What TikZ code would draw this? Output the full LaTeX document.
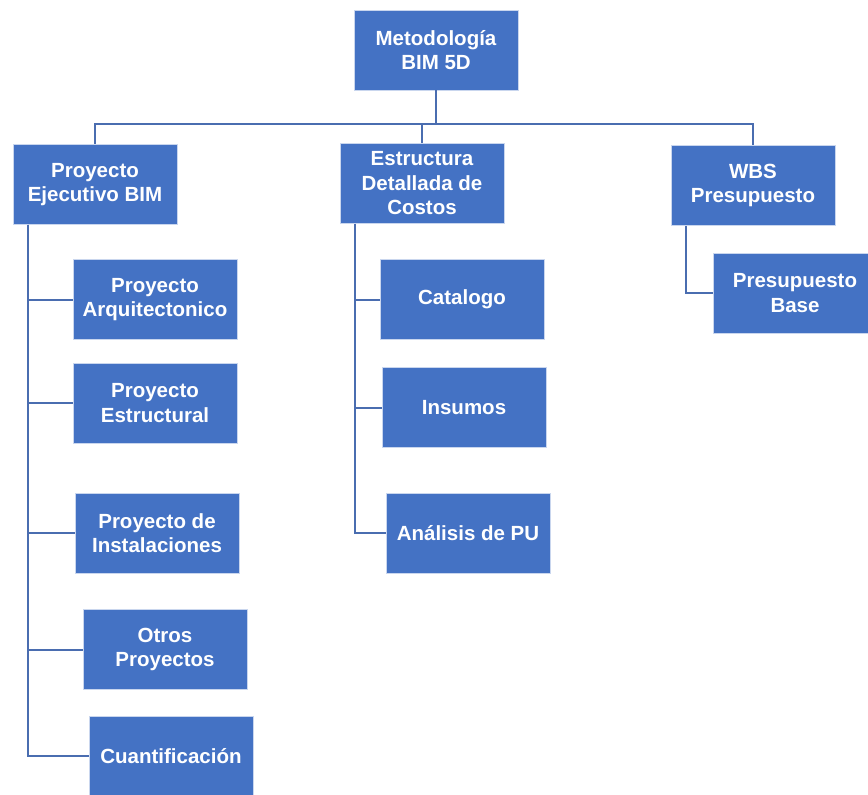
\documentclass[tikz,border=0pt]{standalone}
\usepackage{fontspec}
\setmainfont{Liberation Sans}
\definecolor{boxblue}{HTML}{4472C4}
\definecolor{edgeblue}{HTML}{4A6DB0}
\definecolor{rimblue}{HTML}{C9D6EE}
\begin{document}
\begin{tikzpicture}[x=1pt,y=-1pt,
  box/.style={draw=rimblue, line width=0.8pt, fill=boxblue, text=white,
    minimum width=164pt, minimum height=80pt, inner sep=0pt,
    align=center, font=\fontsize{20.5}{24.5}\selectfont\bfseries},
  link/.style={draw=edgeblue, line width=2pt}]
\useasboundingbox (0,0) rectangle (868,795);

% root
\node[box] (root) at (436,50) {Metodología\\BIM 5D};

% second level
\node[box] (pe)  at (95,184.5)  {Proyecto\\Ejecutivo BIM};
\node[box] (edc) at (422,183.5) {Estructura\\Detallada de\\Costos};
\node[box] (wbs) at (753,185.5) {WBS\\Presupuesto};

% children of Proyecto Ejecutivo BIM
\node[box] (arq)  at (155,299.5) {Proyecto\\Arquitectonico};
\node[box] (est)  at (155,403)   {Proyecto\\Estructural};
\node[box] (ins)  at (157,533)   {Proyecto de\\Instalaciones};
\node[box] (otr)  at (165,649.5) {Otros\\Proyectos};
\node[box] (cua)  at (171,756)   {Cuantificación};

% children of Estructura Detallada de Costos
\node[box] (cat)  at (462,299.5) {Catalogo};
\node[box] (insu) at (464,407.5) {Insumos};
\node[box] (apu)  at (468,533)   {Análisis de PU};

% child of WBS Presupuesto
\node[box] (pb)   at (795,293)   {Presupuesto\\Base};

% root to second level
\draw[link] (root.south) -- ++(0,34) coordinate (bus);
\draw[link] (bus) -| (pe.north);
\draw[link] (bus) -| (edc.north);
\draw[link] (bus) -| (wbs.north);

% left branch
\foreach \c in {arq,est,ins,otr,cua}
  \draw[link] ([xshift=15pt]pe.south west) |- (\c.west);

% middle branch
\foreach \c in {cat,insu,apu}
  \draw[link] ([xshift=15pt]edc.south west) |- (\c.west);

% right branch
\draw[link] ([xshift=15pt]wbs.south west) |- (pb.west);
\end{tikzpicture}
\end{document}
